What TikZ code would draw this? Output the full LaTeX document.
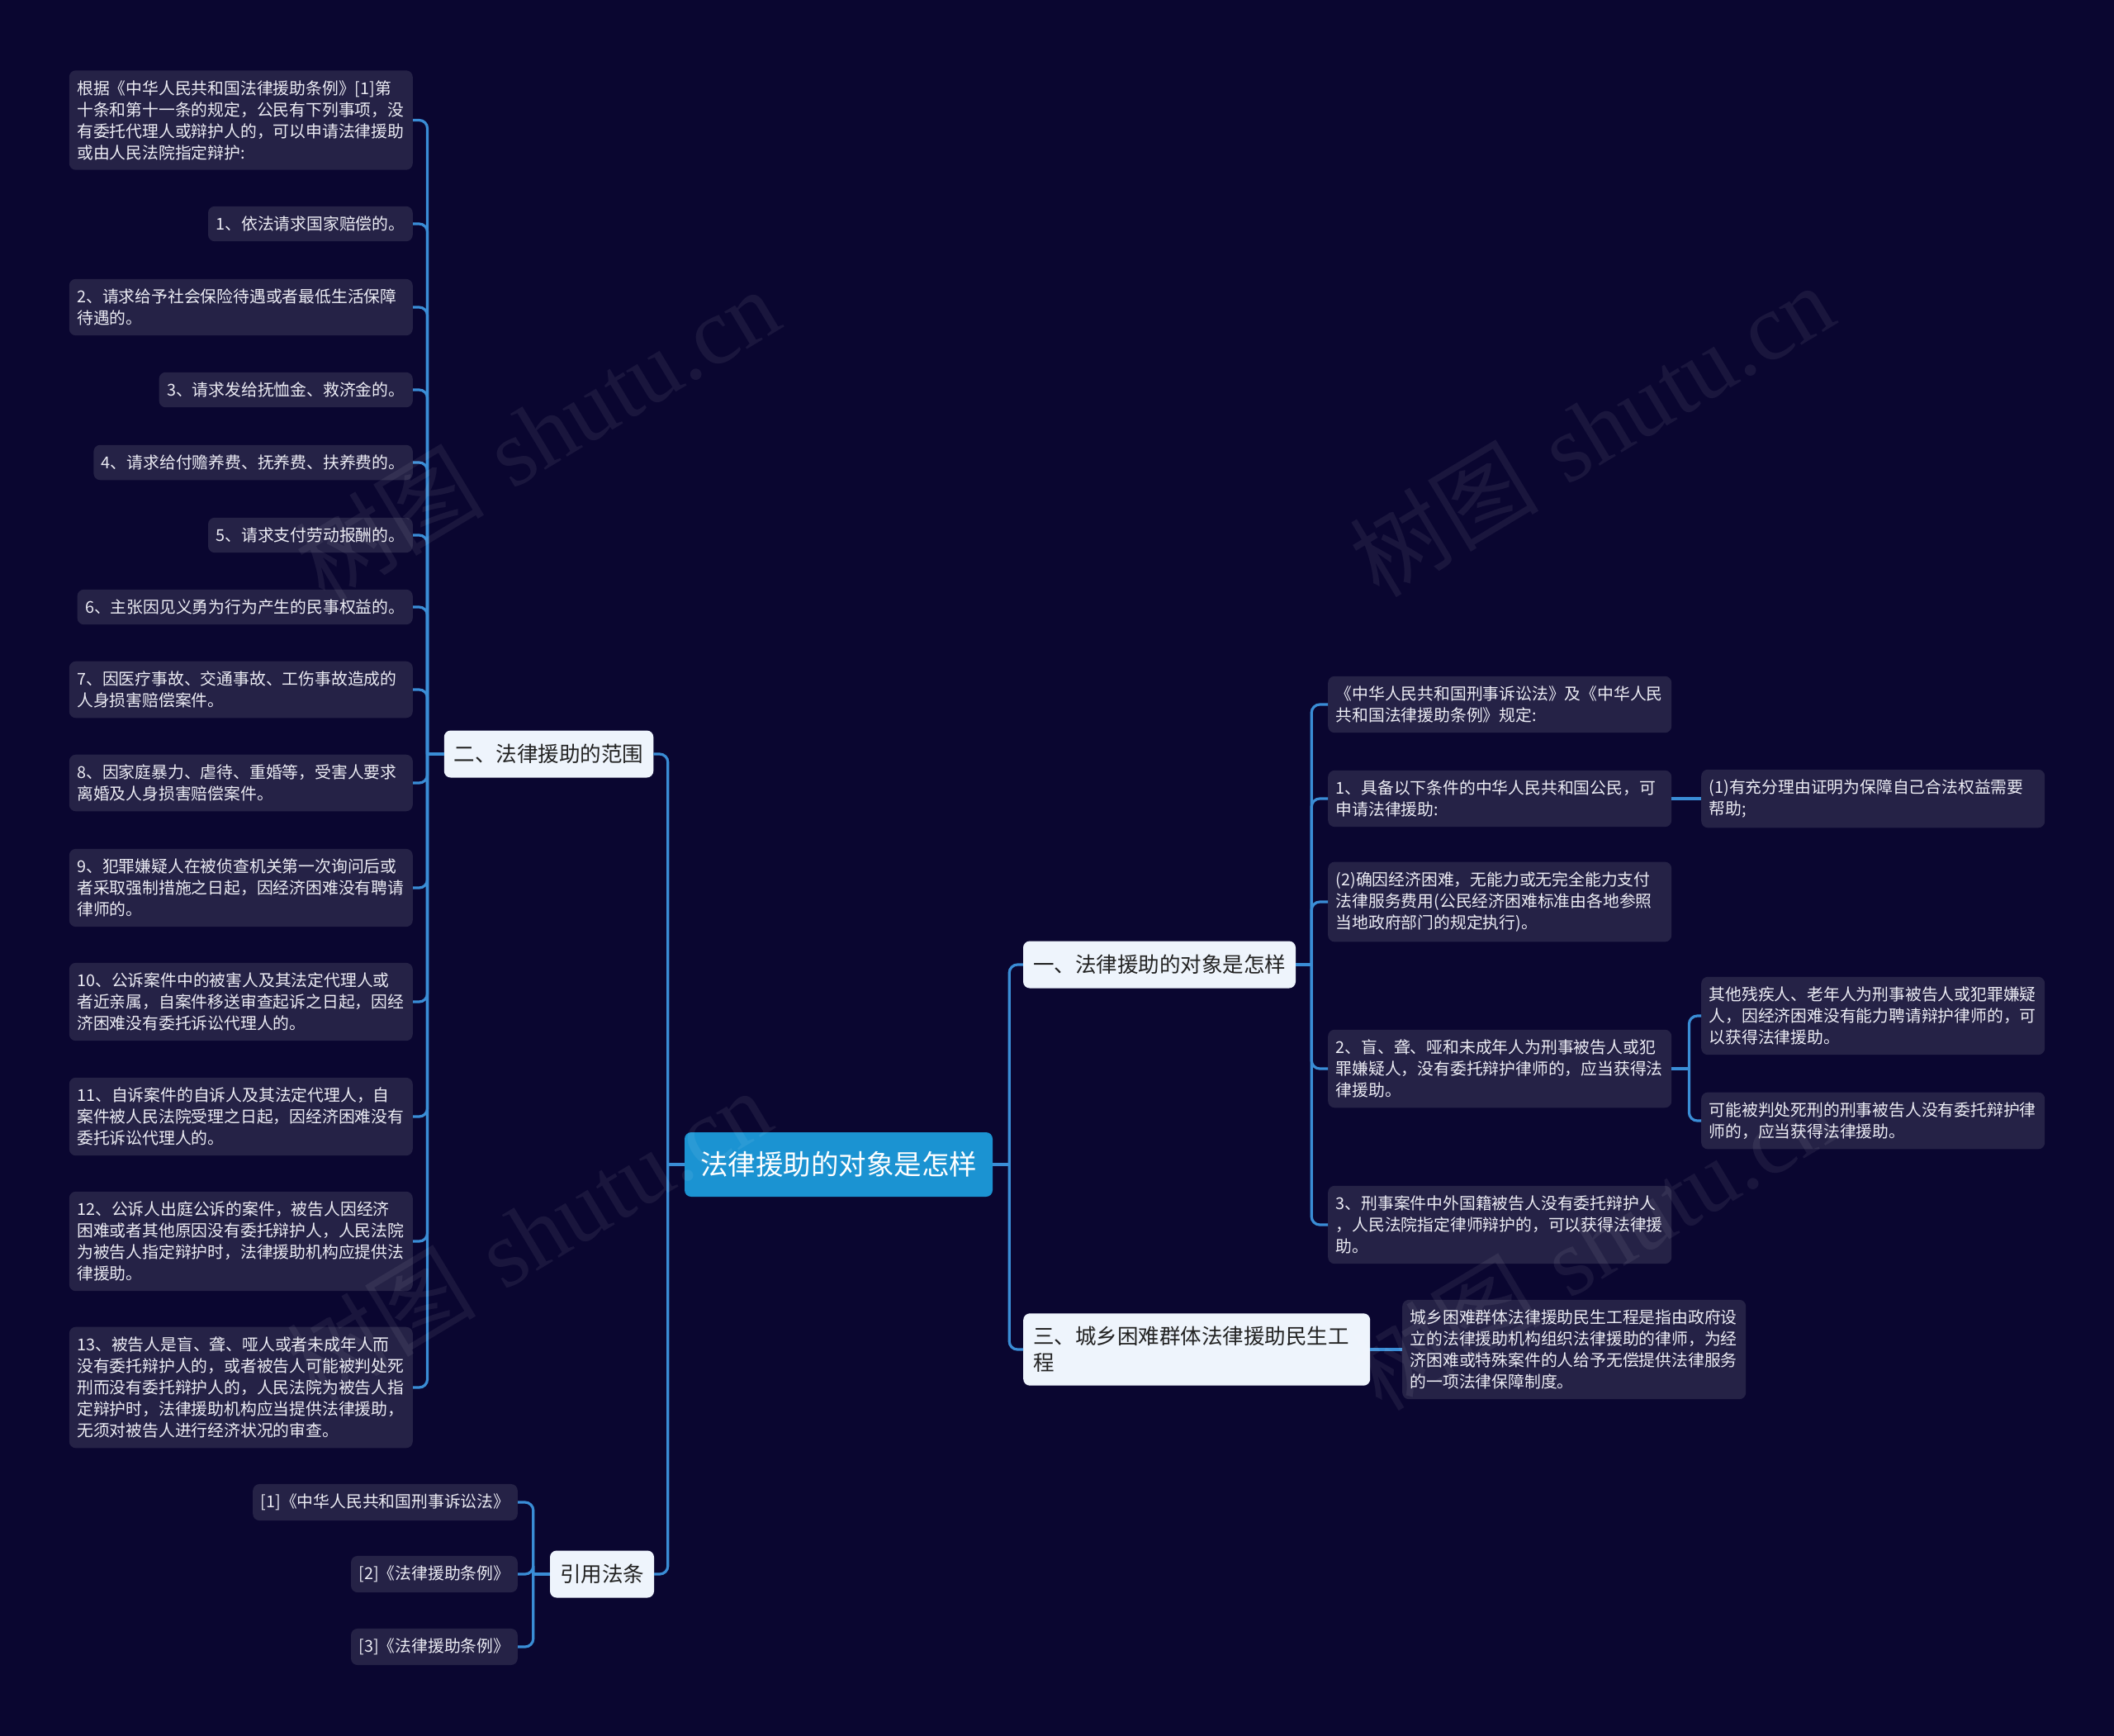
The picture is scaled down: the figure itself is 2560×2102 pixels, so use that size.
\documentclass[tikz,border=0pt]{standalone}
\usepackage{fontspec}
\newfontfamily\cjk{Noto Sans CJK SC}
\newfontfamily\wmserif{Liberation Serif}
\definecolor{bgc}{HTML}{0A0630}
\definecolor{leafc}{HTML}{252246}
\definecolor{leaftxt}{HTML}{ECECF4}
\definecolor{connc}{HTML}{3A8DD6}
\definecolor{rootc}{HTML}{1B93D2}
\definecolor{branchc}{HTML}{EEF4FC}
\definecolor{branchtxt}{HTML}{222222}
\newcommand\leaffont{\cjk\fontsize{19.8}{26}\selectfont}
\newcommand\branchfont{\cjk\fontsize{25.5}{32}\selectfont}
\newcommand\rootfont{\cjk\fontsize{33.5}{40}\selectfont}
\newcommand\wmfont{\fontsize{115}{130}\selectfont}
\tikzset{
  leaf/.style={rectangle, rounded corners=8pt, fill=leafc, text=leaftxt, font=\leaffont,
    inner xsep=9.5pt, inner ysep=12pt, align=left},
  wleaf/.style={leaf, text width=397pt},
  branch/.style={rectangle, rounded corners=8pt, fill=branchc, text=branchtxt, font=\branchfont,
    inner xsep=12pt, inner ysep=16pt, minimum height=57pt},
  rootnode/.style={rectangle, rounded corners=8pt, fill=rootc, text=white, font=\rootfont,
    minimum width=373pt, minimum height=78pt},
  conn/.style={draw=connc, line width=3.2pt, rounded corners=10pt},
  wm/.style={text=white, opacity=0.065, rotate=31, font=\wmfont},
}
\begin{document}
\begin{tikzpicture}[x=1pt,y=-1pt]
\useasboundingbox (0,0) rectangle (2560,2102);
\fill[bgc] (0,0) rectangle (2560,2102);

% root and branches
\node[rootnode] (root) at (1015.5,1410) {法律援助的对象是怎样};
\node[branch, minimum width=253pt] (b2) at (664.5,913) {二、法律援助的范围};
\node[branch, minimum width=126pt] (bref) at (729,1906) {引用法条};
\node[branch, minimum width=330pt] (b1) at (1404,1168) {一、法律援助的对象是怎样};
\node[branch, anchor=west, text width=396pt, align=left] (b3) at (1239,1634) {三、城乡困难群体法律援助民生工\\程};

% left leaves
\node[wleaf, anchor=east] (l0) at (500,145.5) {根据《中华人民共和国法律援助条例》[1]第\\十条和第十一条的规定，公民有下列事项，没\\有委托代理人或辩护人的，可以申请法律援助\\或由人民法院指定辩护:};
\node[leaf, anchor=east] (l1) at (500,271) {1、依法请求国家赔偿的。};
\node[wleaf, anchor=east] (l2) at (500,372) {2、请求给予社会保险待遇或者最低生活保障\\待遇的。};
\node[leaf, anchor=east] (l3) at (500,472) {3、请求发给抚恤金、救济金的。};
\node[leaf, anchor=east] (l4) at (500,560) {4、请求给付赡养费、抚养费、扶养费的。};
\node[leaf, anchor=east] (l5) at (500,648) {5、请求支付劳动报酬的。};
\node[leaf, anchor=east] (l6) at (500,735) {6、主张因见义勇为行为产生的民事权益的。};
\node[wleaf, anchor=east] (l7) at (500,835) {7、因医疗事故、交通事故、工伤事故造成的\\人身损害赔偿案件。};
\node[wleaf, anchor=east] (l8) at (500,948) {8、因家庭暴力、虐待、重婚等，受害人要求\\离婚及人身损害赔偿案件。};
\node[wleaf, anchor=east] (l9) at (500,1075) {9、犯罪嫌疑人在被侦查机关第一次询问后或\\者采取强制措施之日起，因经济困难没有聘请\\律师的。};
\node[wleaf, anchor=east] (l10) at (500,1213) {10、公诉案件中的被害人及其法定代理人或\\者近亲属，自案件移送审查起诉之日起，因经\\济困难没有委托诉讼代理人的。};
\node[wleaf, anchor=east] (l11) at (500,1352) {11、自诉案件的自诉人及其法定代理人，自\\案件被人民法院受理之日起，因经济困难没有\\委托诉讼代理人的。};
\node[wleaf, anchor=east] (l12) at (500,1503) {12、公诉人出庭公诉的案件，被告人因经济\\困难或者其他原因没有委托辩护人，人民法院\\为被告人指定辩护时，法律援助机构应提供法\\律援助。};
\node[wleaf, anchor=east] (l13) at (500,1680) {13、被告人是盲、聋、哑人或者未成年人而\\没有委托辩护人的，或者被告人可能被判处死\\刑而没有委托辩护人的，人民法院为被告人指\\定辩护时，法律援助机构应当提供法律援助，\\无须对被告人进行经济状况的审查。};

% citations
\node[leaf, anchor=east] (c1) at (627,1819) {[1]《中华人民共和国刑事诉讼法》};
\node[leaf, anchor=east] (c2) at (627,1906) {[2]《法律援助条例》};
\node[leaf, anchor=east] (c3) at (627,1994) {[3]《法律援助条例》};

% right leaves
\node[wleaf, anchor=west] (r1) at (1608,853) {《中华人民共和国刑事诉讼法》及《中华人民\\共和国法律援助条例》规定:};
\node[wleaf, anchor=west] (r2) at (1608,967) {1、具备以下条件的中华人民共和国公民，可\\申请法律援助:};
\node[wleaf, anchor=west] (r3) at (2060,967) {(1)有充分理由证明为保障自己合法权益需要\\帮助;};
\node[wleaf, anchor=west] (r4) at (1608,1092) {(2)确因经济困难，无能力或无完全能力支付\\法律服务费用(公民经济困难标准由各地参照\\当地政府部门的规定执行)。};
\node[wleaf, anchor=west] (r5) at (1608,1294) {2、盲、聋、哑和未成年人为刑事被告人或犯\\罪嫌疑人，没有委托辩护律师的，应当获得法\\律援助。};
\node[wleaf, anchor=west] (r6) at (2060,1230) {其他残疾人、老年人为刑事被告人或犯罪嫌疑\\人，因经济困难没有能力聘请辩护律师的，可\\以获得法律援助。};
\node[wleaf, anchor=west] (r7) at (2060,1357) {可能被判处死刑的刑事被告人没有委托辩护律\\师的，应当获得法律援助。};
\node[wleaf, anchor=west] (r8) at (1608,1483) {3、刑事案件中外国籍被告人没有委托辩护人\\，人民法院指定律师辩护的，可以获得法律援\\助。};
\node[wleaf, anchor=west] (s1) at (1698,1634) {城乡困难群体法律援助民生工程是指由政府设\\立的法律援助机构组织法律援助的律师，为经\\济困难或特殊案件的人给予无偿提供法律服务\\的一项法律保障制度。};

% connectors: root
\draw[conn] (root.west) -- ++(-20,0) coordinate (tRL);
\draw[conn] (tRL) |- (b2.east);
\draw[conn] (tRL) |- (bref.east);
\draw[conn] (root.east) -- ++(20,0) coordinate (tRR);
\draw[conn] (tRR) |- (b1.west);
\draw[conn] (tRR) |- (b3.west);

% b2 -> left leaves
\draw[conn] (b2.west) -- ++(-20,0) coordinate (t2);
\foreach \n in {l0,l1,l2,l3,l4,l5,l6,l7,l8,l9,l10,l11,l12,l13}
  \draw[conn] (t2) |- (\n.east);

% bref -> citations
\draw[conn] (bref.west) -- ++(-20,0) coordinate (tc);
\foreach \n in {c1,c2,c3}
  \draw[conn] (tc) |- (\n.east);

% b1 -> right leaves
\draw[conn] (b1.east) -- ++(19,0) coordinate (t1);
\foreach \n in {r1,r2,r4,r5,r8}
  \draw[conn] (t1) |- (\n.west);
\draw[conn] (r2.east) -- (r3.west);
\draw[conn] (r5.east) -- ++(21,0) coordinate (t5);
\draw[conn] (t5) |- (r6.west);
\draw[conn] (t5) |- (r7.west);

% b3 -> leaf
\draw[conn] (b3.east) -- (s1.west);

% watermarks
\node[wm] (w1) at (650,525) {{\cjk 树图} {\wmserif shutu.cn}};
\node[wm] (w2) at (1927,520) {{\cjk 树图} {\wmserif shutu.cn}};
\node[wm] (w3) at (640,1495) {{\cjk 树图} {\wmserif shutu.cn}};
\node[wm] (w4) at (1930,1505) {{\cjk 树图} {\wmserif shutu.cn}};
\end{tikzpicture}
\end{document}
